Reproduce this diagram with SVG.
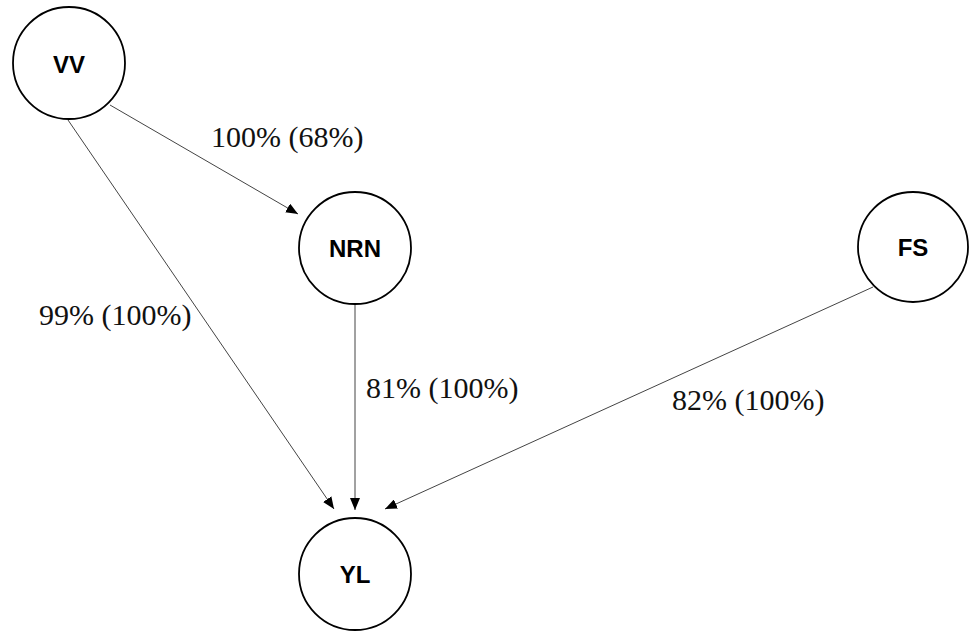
<svg xmlns="http://www.w3.org/2000/svg" width="973" height="631" viewBox="0 0 973 631">
<style>
.node circle{fill:#fff;stroke:#000;stroke-width:1.8}
.node text{font-family:"Liberation Sans",Arial,sans-serif;font-weight:bold;font-size:24px;text-anchor:middle;fill:#000}
.edge{stroke:#444;stroke-width:1;fill:none;marker-end:url(#ah)}
.lbl{font-family:"Liberation Serif","Times New Roman",serif;font-size:30px;fill:#111}
</style>
<defs>
<marker id="ah" markerUnits="userSpaceOnUse" markerWidth="12" markerHeight="10" refX="12" refY="5" orient="auto">
<path d="M0,0 L12,5 L0,10 Z" fill="#000"/>
</marker>
</defs>
<rect width="973" height="631" fill="#fff"/>
<g id="connectors">
<line class="edge" x1="110" y1="105" x2="298" y2="214"/>
<line class="edge" x1="68" y1="120" x2="334" y2="509"/>
<line class="edge" x1="355" y1="304" x2="355" y2="510"/>
<line class="edge" x1="873" y1="287" x2="385" y2="509"/>
<text class="lbl" x="211" y="147">100% (68%)</text>
<text class="lbl" x="39" y="325">99% (100%)</text>
<text class="lbl" x="366" y="398">81% (100%)</text>
<text class="lbl" x="672" y="410">82% (100%)</text>
</g>
<g id="VV" class="node"><circle cx="69" cy="63" r="56"/><text x="69" y="73">VV</text></g>
<g id="NRN" class="node"><circle cx="355" cy="248" r="56"/><text x="355" y="257">NRN</text></g>
<g id="FS" class="node"><circle cx="913" cy="247" r="55"/><text x="913" y="256">FS</text></g>
<g id="YL" class="node"><circle cx="355" cy="574" r="56"/><text x="355" y="583">YL</text></g>
</svg>
